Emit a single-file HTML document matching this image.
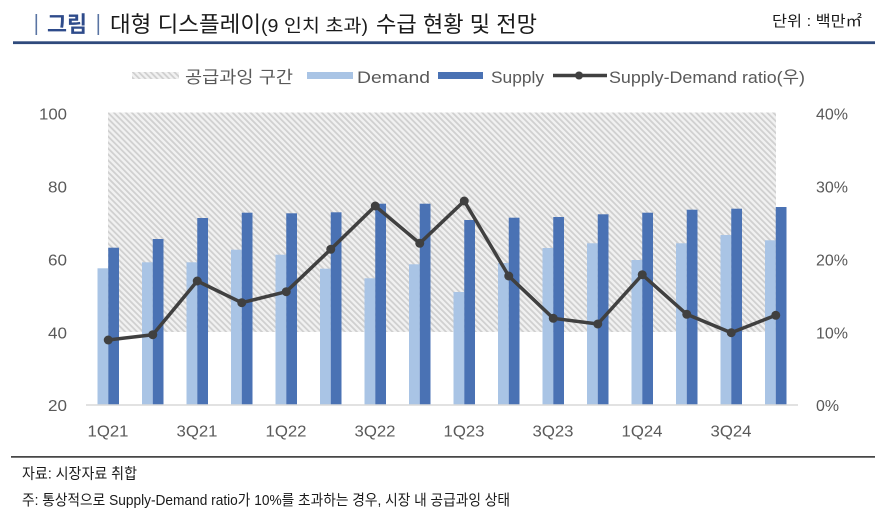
<!DOCTYPE html>
<html>
<head>
<meta charset="utf-8">
<style>
html,body{margin:0;padding:0;background:#fff;}
svg{display:block;}
text{font-family:"Liberation Sans","Noto Sans CJK KR",sans-serif;}
</style>
</head>
<body>
<svg width="886" height="517" viewBox="0 0 886 517" xmlns="http://www.w3.org/2000/svg">
<defs>
<pattern id="hatch" width="4.2" height="4.2" patternUnits="userSpaceOnUse" patternTransform="rotate(-45)">
<rect width="4.2" height="4.2" fill="#f1f1f1"/>
<rect width="1.8" height="4.2" fill="#d0d0d0"/>
</pattern>
</defs>

<!-- Title -->
<rect x="35.5" y="14" width="1.6" height="21" fill="#5a74a3"/>
<text x="47" y="32" font-size="22" font-weight="bold" fill="#2e4b8b" textLength="40" lengthAdjust="spacingAndGlyphs">그림</text>
<rect x="97.5" y="14" width="1.6" height="21" fill="#5a74a3"/>
<text x="110" y="32" font-size="22" fill="#1a1a1a" textLength="151" lengthAdjust="spacingAndGlyphs">대형 디스플레이</text>
<text x="261" y="32" font-size="18" fill="#1a1a1a" textLength="107" lengthAdjust="spacingAndGlyphs">(9 인치 초과)</text>
<text x="376" y="32" font-size="22" fill="#1a1a1a" textLength="161" lengthAdjust="spacingAndGlyphs">수급 현황 및 전망</text>
<text x="772" y="26" font-size="15" fill="#1a1a1a" textLength="90" lengthAdjust="spacingAndGlyphs">단위 : 백만㎡</text>
<rect x="13" y="41.3" width="862" height="2.8" fill="#2f4a7c"/>

<!-- Legend -->
<rect x="132" y="72" width="47" height="7" fill="url(#hatch)"/>
<text x="185" y="83" font-size="17" fill="#595959" textLength="108" lengthAdjust="spacingAndGlyphs">공급과잉 구간</text>
<rect x="307" y="72" width="46" height="7" fill="#a9c4e5"/>
<text x="357" y="83" font-size="17" fill="#595959" textLength="73" lengthAdjust="spacingAndGlyphs">Demand</text>
<rect x="438" y="72" width="45" height="7" fill="#4a72b4"/>
<text x="491" y="83" font-size="17" fill="#595959" textLength="53" lengthAdjust="spacingAndGlyphs">Supply</text>
<line x1="553" y1="75.5" x2="607" y2="75.5" stroke="#404040" stroke-width="3.5"/>
<circle cx="579" cy="75.5" r="4" fill="#404040"/>
<text x="609" y="83" font-size="17" fill="#595959" textLength="196" lengthAdjust="spacingAndGlyphs">Supply-Demand ratio(우)</text>

<!-- Hatched oversupply region -->
<rect x="108" y="112.5" width="668" height="219.5" fill="url(#hatch)"/>

<!-- Demand bars -->
<g fill="#a9c4e5">
<rect x="97.5" y="268.3" width="10.75" height="136.7"/>
<rect x="142" y="262.3" width="10.75" height="142.7"/>
<rect x="186.5" y="262.3" width="10.75" height="142.7"/>
<rect x="231" y="249.7" width="10.75" height="155.3"/>
<rect x="275.5" y="254.7" width="10.75" height="150.3"/>
<rect x="320" y="268.7" width="10.75" height="136.3"/>
<rect x="364.5" y="278.3" width="10.75" height="126.7"/>
<rect x="409" y="264.3" width="10.75" height="140.7"/>
<rect x="453.5" y="292" width="10.75" height="113"/>
<rect x="498" y="263" width="10.75" height="142"/>
<rect x="542.5" y="248" width="10.75" height="157"/>
<rect x="587" y="243.3" width="10.75" height="161.7"/>
<rect x="631.5" y="260" width="10.75" height="145"/>
<rect x="676" y="243.3" width="10.75" height="161.7"/>
<rect x="720.5" y="235" width="10.75" height="170"/>
<rect x="765" y="240.3" width="10.75" height="164.7"/>
</g>
<!-- Supply bars -->
<g fill="#4a72b4">
<rect x="108.25" y="247.7" width="10.75" height="157.3"/>
<rect x="152.75" y="239" width="10.75" height="166"/>
<rect x="197.25" y="218" width="10.75" height="187"/>
<rect x="241.75" y="212.7" width="10.75" height="192.3"/>
<rect x="286.25" y="213.3" width="10.75" height="191.7"/>
<rect x="330.75" y="212.3" width="10.75" height="192.7"/>
<rect x="375.25" y="203.7" width="10.75" height="201.3"/>
<rect x="419.75" y="203.7" width="10.75" height="201.3"/>
<rect x="464.25" y="220" width="10.75" height="185"/>
<rect x="508.75" y="217.7" width="10.75" height="187.3"/>
<rect x="553.25" y="217" width="10.75" height="188"/>
<rect x="597.75" y="214.3" width="10.75" height="190.7"/>
<rect x="642.25" y="212.7" width="10.75" height="192.3"/>
<rect x="686.75" y="209.7" width="10.75" height="195.3"/>
<rect x="731.25" y="208.7" width="10.75" height="196.3"/>
<rect x="775.75" y="207" width="10.75" height="198"/>
</g>

<!-- Axis baseline -->
<line x1="86" y1="405" x2="798" y2="405" stroke="#d9d9d9" stroke-width="1.5"/>

<!-- Ratio line -->
<polyline fill="none" stroke="#404040" stroke-width="3.5" stroke-linejoin="round"
points="108.25,340 152.75,334.7 197.25,281 241.75,302.7 286.25,291.7 330.75,249.3 375.25,206 419.75,243.3 464.25,201 508.75,276 553.25,318.3 597.75,324 642.25,274.7 686.75,314.3 731.25,332.7 775.75,315.3"/>
<g fill="#404040">
<circle cx="108.25" cy="340" r="4.5"/>
<circle cx="152.75" cy="334.7" r="4.5"/>
<circle cx="197.25" cy="281" r="4.5"/>
<circle cx="241.75" cy="302.7" r="4.5"/>
<circle cx="286.25" cy="291.7" r="4.5"/>
<circle cx="330.75" cy="249.3" r="4.5"/>
<circle cx="375.25" cy="206" r="4.5"/>
<circle cx="419.75" cy="243.3" r="4.5"/>
<circle cx="464.25" cy="201" r="4.5"/>
<circle cx="508.75" cy="276" r="4.5"/>
<circle cx="553.25" cy="318.3" r="4.5"/>
<circle cx="597.75" cy="324" r="4.5"/>
<circle cx="642.25" cy="274.7" r="4.5"/>
<circle cx="686.75" cy="314.3" r="4.5"/>
<circle cx="731.25" cy="332.7" r="4.5"/>
<circle cx="775.75" cy="315.3" r="4.5"/>
</g>

<!-- Left axis labels -->
<g font-size="16" fill="#595959" text-anchor="end">
<text x="67" y="119.3" textLength="28" lengthAdjust="spacingAndGlyphs">100</text>
<text x="67" y="192.3" textLength="19" lengthAdjust="spacingAndGlyphs">80</text>
<text x="67" y="265.3" textLength="19" lengthAdjust="spacingAndGlyphs">60</text>
<text x="67" y="338.3" textLength="19" lengthAdjust="spacingAndGlyphs">40</text>
<text x="67" y="411" textLength="19" lengthAdjust="spacingAndGlyphs">20</text>
</g>
<!-- Right axis labels -->
<g font-size="16" fill="#595959">
<text x="816" y="119.3" textLength="32" lengthAdjust="spacingAndGlyphs">40%</text>
<text x="816" y="192.3" textLength="32" lengthAdjust="spacingAndGlyphs">30%</text>
<text x="816" y="265.3" textLength="32" lengthAdjust="spacingAndGlyphs">20%</text>
<text x="816" y="338.3" textLength="32" lengthAdjust="spacingAndGlyphs">10%</text>
<text x="816" y="411" textLength="23" lengthAdjust="spacingAndGlyphs">0%</text>
</g>
<!-- X labels -->
<g font-size="16" fill="#595959">
<text x="87.5" y="436.7" textLength="41" lengthAdjust="spacingAndGlyphs">1Q21</text>
<text x="176.5" y="436.7" textLength="41" lengthAdjust="spacingAndGlyphs">3Q21</text>
<text x="265.5" y="436.7" textLength="41" lengthAdjust="spacingAndGlyphs">1Q22</text>
<text x="354.5" y="436.7" textLength="41" lengthAdjust="spacingAndGlyphs">3Q22</text>
<text x="443.5" y="436.7" textLength="41" lengthAdjust="spacingAndGlyphs">1Q23</text>
<text x="532.5" y="436.7" textLength="41" lengthAdjust="spacingAndGlyphs">3Q23</text>
<text x="621.5" y="436.7" textLength="41" lengthAdjust="spacingAndGlyphs">1Q24</text>
<text x="710.5" y="436.7" textLength="41" lengthAdjust="spacingAndGlyphs">3Q24</text>
</g>

<!-- Footer -->
<rect x="11" y="456.2" width="864" height="1.4" fill="#1a1a1a"/>
<text x="22" y="478.5" font-size="15" fill="#1a1a1a" textLength="115" lengthAdjust="spacingAndGlyphs">자료: 시장자료 취합</text>
<text x="22" y="505" font-size="15" fill="#1a1a1a" textLength="488" lengthAdjust="spacingAndGlyphs">주: 통상적으로 Supply-Demand ratio가 10%를 초과하는 경우, 시장 내 공급과잉 상태</text>
</svg>
</body>
</html>
